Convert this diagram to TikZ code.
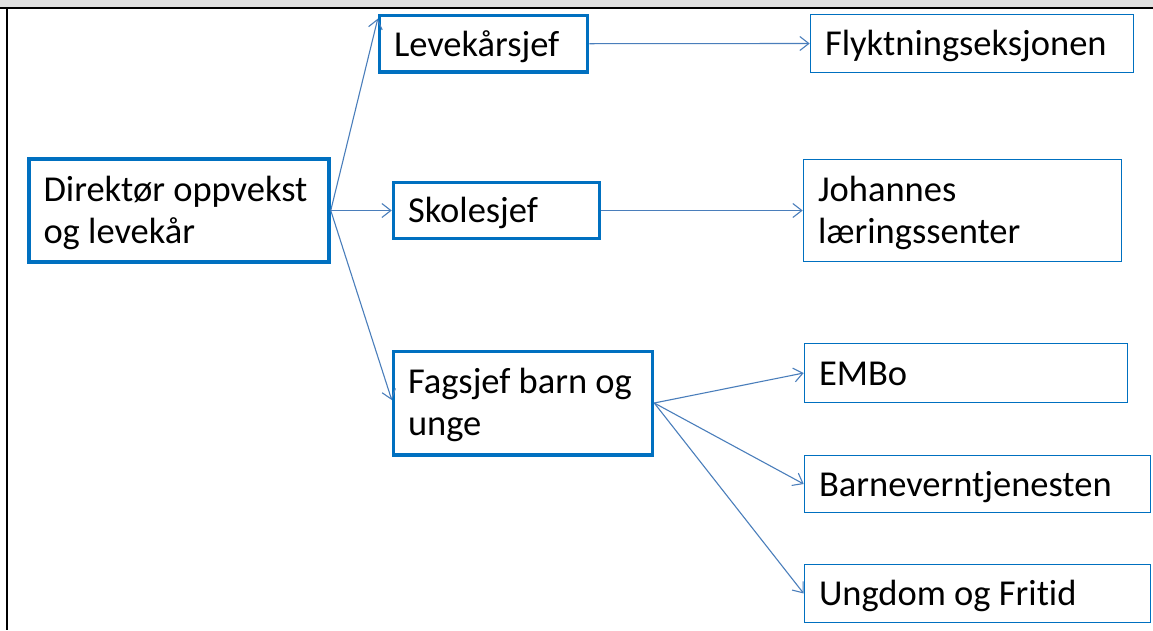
\documentclass[tikz,border=0pt]{standalone}
\usepackage{fontspec}
\setmainfont{Carlito}[Ligatures=NoCommon]
\usetikzlibrary{arrows.meta}
\definecolor{boxblue}{HTML}{0070C0}
\definecolor{arrowblue}{HTML}{4A7EBB}
\definecolor{bargray}{HTML}{E0E0E0}
\tikzset{
  box/.style={draw=boxblue, rectangle, inner xsep=14.5pt, inner ysep=0pt, align=flush left,
    font=\fontsize{36.5}{42}\selectfont, text=black, text height=30pt},
  oneline/.style={text depth=5.4pt},
  twoline/.style={text depth=49pt},
  thickbox/.style={box, line width=3.5pt},
  thinbox/.style={box, line width=1.6pt},
  conn/.style={draw=arrowblue, line width=1.1pt, -{Straight Barb[length=9pt,width=14pt,line width=1.1pt]}},
}
\begin{document}
\begin{tikzpicture}[x=1pt,y=-1pt]
\useasboundingbox (0,0) rectangle (1153,630);
\fill[bargray] (0,0) rectangle (1153,7.5);
\draw[black, line width=2pt] (0,7.5) -- (1153,7.5);
\draw[black, line width=2pt] (6.5,7.5) -- (6.5,630);

\node[thickbox, twoline, minimum width=300pt, minimum height=103pt, text width=271pt] (dir) at (179,210.5) {Direktør~oppvekst\\og levekår};
\node[thickbox, oneline, minimum width=208pt, minimum height=56.5pt, text width=179pt] (lev) at (483.5,43.7) {Levekårsjef};
\node[thickbox, oneline, minimum width=206pt, minimum height=56pt, text width=177pt] (sko) at (496.5,210.5) {Skolesjef};
\node[thickbox, twoline, minimum width=259pt, minimum height=103.5pt, text width=230pt] (fag) at (523,403) {Fagsjef~barn~og\\unge};

\node[thinbox, oneline, minimum width=323pt, minimum height=58pt, text width=294pt] (fly) at (972,43.5) {Flyktningseksjonen};
\node[thinbox, twoline, minimum width=318pt, minimum height=102pt, text width=289pt] (joh) at (962.5,210.5) {Johannes\\læringssenter};
\node[thinbox, oneline, minimum width=323pt, minimum height=59pt, text width=294pt] (emb) at (966,373) {EMBo};
\node[thinbox, oneline, minimum width=346pt, minimum height=57pt, text width=317pt] (bar) at (977.5,484) {Barneverntjenesten};
\node[thinbox, oneline, minimum width=346pt, minimum height=58pt, text width=317pt] (ung) at (977.5,593.5) {Ungdom~og~Fritid};

\draw[conn] (dir.east) -- ([yshift=-5pt]lev.north west);
\draw[conn] (dir.east) -- (sko.west);
\draw[conn] (dir.east) -- ([yshift=3pt]fag.west);
\draw[conn] (lev.east) -- (fly.west);
\draw[conn] (sko.east) -- (joh.west);
\draw[conn] (fag.east) -- (emb.west);
\draw[conn] (fag.east) -- (bar.west);
\draw[conn] (fag.east) -- (ung.west);
\end{tikzpicture}
\end{document}
